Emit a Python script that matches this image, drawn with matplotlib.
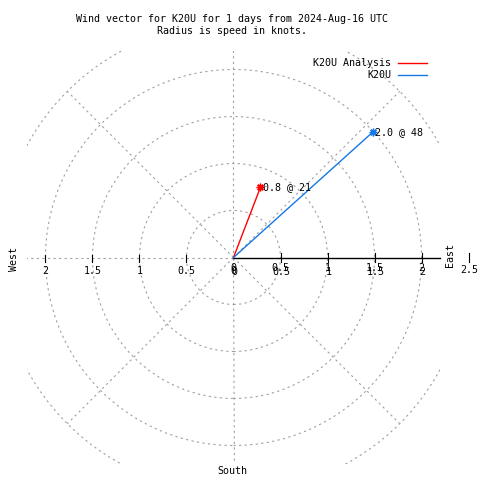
import numpy as np
import matplotlib
matplotlib.use("Agg")
import matplotlib.pyplot as plt
from matplotlib.patches import Circle, Rectangle

# data: wind vectors (speed in knots, direction in degrees from north)
names = ['K20U Analysis', 'K20U']
speeds = [0.8, 2.0]
dirs = [21, 48]
colors = ['#ff0000', '#1478e6']

# radial grid / ticks
rings = [0.5, 1.0, 1.5, 2.0, 2.5]
rticks = [0, 0.5, 1, 1.5, 2]
spokes = [0, 45, 135, 180, 225, 270, 315]
rmax_box = 2.2

title = 'Wind vector for K20U for 1 days from 2024-Aug-16 UTC\nRadius is speed in knots.'

FONT = 'DejaVu Sans Mono'
FS = 7.2
GRID = '#a0a0a0'

fig = plt.figure(figsize=(4.8, 4.8), dpi=100)
ax = fig.add_axes([0, 0, 1, 1])
ax.axis('off')

# 94 px per knot, centre at pixel (233, 257)
S = 94.0
cx, cy = 233.5, 257.5
ax.set_xlim(-cx / S, (480 - cx) / S)
ax.set_ylim(-(480 - cy) / S, cy / S)


def pix(x, y):
    return x / 480, 1 - y / 480


clip = Rectangle((-rmax_box, -rmax_box), 2 * rmax_box, 2 * rmax_box,
                 transform=ax.transData, fill=False, lw=0)
ax.add_patch(clip)
clip.set_visible(False)

# dashed grid circles and spokes
for r in rings:
    c = Circle((0, 0), r, fill=False, ec=GRID, lw=0.8, ls=(0, (2, 3)))
    ax.add_patch(c)
    c.set_clip_path(clip)
for a in spokes:
    t = np.radians(a)
    ln, = ax.plot([0, 2.5 * np.sin(t)], [0, 2.5 * np.cos(t)], color=GRID,
                  lw=0.8, ls=(0, (2, 3)))
    ln.set_clip_path(clip)

# east axis (solid) with ticks
ax.plot([0, rmax_box], [0, 0], color='black', lw=1.0)
tk = 4.5 / S
for r in rticks[1:] + [2.5]:
    ax.plot([r, r], [-tk, tk], color='black', lw=0.8)
for r in rticks[1:]:
    ax.plot([-r, -r], [-tk, tk * 0.6], color='black', lw=0.8)

# tick labels (the right side is drawn twice, like the original)
for r in rticks:
    xp = cx + r * S
    ax.text(*pix(xp, 268), '%g' % r, transform=fig.transFigure, ha='center',
            va='center', family=FONT, fontsize=FS)
    ax.text(*pix(xp + 1, 272), '%g' % r, transform=fig.transFigure, ha='center',
            va='center', family=FONT, fontsize=FS)
    ax.text(*pix(cx - r * S, 271), '%g' % r, transform=fig.transFigure,
            ha='center', va='center', family=FONT, fontsize=FS)
ax.text(*pix(cx + 2.5 * S + 1, 270), '2.5', transform=fig.transFigure,
        ha='center', va='center', family=FONT, fontsize=FS)

# compass labels
ax.text(*pix(14, 259), 'West', transform=fig.transFigure, rotation=90,
        ha='center', va='center', family=FONT, fontsize=FS)
ax.text(*pix(450, 255), 'East', transform=fig.transFigure, rotation=90,
        ha='center', va='center', family=FONT, fontsize=FS)
ax.text(*pix(232, 471), 'South', transform=fig.transFigure,
        ha='center', va='center', family=FONT, fontsize=FS)

# title
ax.text(*pix(232, 25), title, transform=fig.transFigure, ha='center',
        va='center', family=FONT, fontsize=FS, linespacing=1.15)

# wind vectors
for i in range(len(names)):
    t = np.radians(dirs[i])
    x, y = speeds[i] * np.sin(t), speeds[i] * np.cos(t)
    ax.plot([0, x], [0, y], color=colors[i], lw=1.0)
    ax.plot([x], [y], marker=(8, 2, 0), ms=5.5, mew=1.0, color=colors[i])
    ax.annotate('%.1f @ %d' % (speeds[i], dirs[i]), (x, y), xytext=(1.5, 0),
                textcoords='offset points', ha='left', va='center',
                family=FONT, fontsize=FS)

# legend
for i in range(len(names)):
    yp = 62.5 + 12.5 * i
    ax.text(*pix(391, yp), names[i], transform=fig.transFigure, ha='right',
            va='center', family=FONT, fontsize=FS)
    x0, y0 = ax.transData.inverted().transform((398, 480 - yp))
    x1, _ = ax.transData.inverted().transform((427, 480 - yp))
    ax.plot([x0, x1], [y0, y0], color=colors[i], lw=1.0)

fig.savefig('out.png', dpi=100)
